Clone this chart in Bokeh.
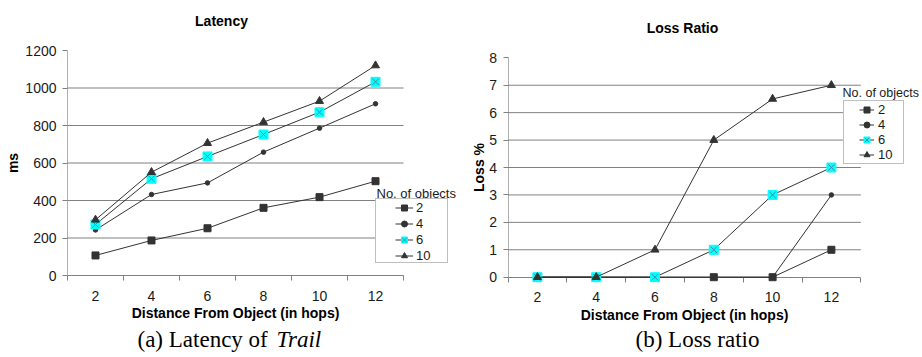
import math
from bokeh.plotting import figure
from bokeh.models import Range1d, FixedTicker, Legend, LegendItem, Label
from bokeh.layouts import row
from bokeh.embed import file_html
from bokeh.resources import INLINE

# ---- data ----
hops = [2, 4, 6, 8, 10, 12]
series_labels = ["2", "4", "6", "10"]

latency_2 = [107, 187, 252, 361, 418, 503]
latency_4 = [243, 432, 494, 658, 786, 916]
latency_6 = [272, 516, 635, 752, 871, 1033]
latency_10 = [297, 551, 706, 818, 930, 1120]

loss_2 = [0, 0, 0, 0, 0, 1]
loss_4 = [0, 0, 0, 0, 0, 3]
loss_6 = [0, 0, 0, 1, 3, 4]
loss_10 = [0, 0, 1, 5, 6.5, 7]

latency_ticks = [0, 200, 400, 600, 800, 1000, 1200]
loss_ticks = [0, 1, 2, 3, 4, 5, 6, 7, 8]

DARK = "#333333"
CYAN = "#00ffff"
SANS = "Liberation Sans"
SERIF = "Liberation Serif"
W, H = 461, 357


def span_range(v0, v1, p0, p1, size):
    s = (v1 - v0) / (p1 - p0)
    return Range1d(v0 - p0 * s, v0 + (size - p0) * s)


def make_panel(series, yticks, title, ylabel, caption_parts, lay):
    xlo, xhi = hops[0] - 1, hops[-1] + 1
    ylo, yhi = yticks[0], yticks[-1]
    ox = lay["ox"]
    xr = span_range(xlo, xhi, lay["fx0"] - ox, lay["fx1"] - ox, W)
    yr = span_range(ylo, yhi, H - lay["fy0"], H - lay["fy1"], H)
    p = figure(width=W, height=H, output_backend="svg", toolbar_location=None,
               title=None, x_range=xr, y_range=yr,
               min_border=0, min_border_left=0, min_border_right=0,
               min_border_top=0, min_border_bottom=0)
    p.outline_line_color = None
    p.background_fill_color = "white"
    p.border_fill_color = "white"
    p.xgrid.visible = False
    p.ygrid.visible = False

    # grid lines (only across the data area)
    gt = yticks[1:-1]
    p.segment(x0=[xlo] * len(gt), x1=[xhi] * len(gt), y0=gt, y1=gt,
              line_color="#808080", line_width=1)

    # axes
    xa = p.xaxis[0]
    xa.fixed_location = ylo
    xa.bounds = (xlo, xhi)
    xa.level = "underlay"
    xa.ticker = FixedTicker(ticks=hops, minor_ticks=[h - 1 for h in hops] + [xhi])
    xa.major_tick_out = 0
    xa.major_tick_in = 0
    xa.minor_tick_out = 5
    xa.minor_tick_in = 0
    xa.minor_tick_line_color = "#808080"
    xa.axis_line_color = "#808080"
    xa.major_label_standoff = 10
    xa.major_label_text_font = SANS
    xa.major_label_text_font_size = "14px"
    xa.major_label_text_color = "#1a1a1a"
    xa.axis_label = "Distance From Object (in hops)"
    xa.axis_label_text_font = SANS
    xa.axis_label_text_font_style = "bold"
    xa.axis_label_text_font_size = "14px"
    xa.axis_label_text_color = "#000000"
    xa.axis_label_standoff = 1

    ya = p.yaxis[0]
    ya.fixed_location = xlo
    ya.bounds = (ylo, yhi)
    ya.level = "underlay"
    ya.ticker = FixedTicker(ticks=yticks, minor_ticks=[])
    ya.major_tick_out = 5
    ya.major_tick_in = 0
    ya.major_tick_line_color = "#808080"
    ya.axis_line_color = "#b0b0b0"
    ya.major_label_standoff = 6
    ya.major_label_text_font = SANS
    ya.major_label_text_font_size = "14px"
    ya.major_label_text_color = "#1a1a1a"
    ya.axis_label = ylabel
    ya.axis_label_text_font = SANS
    ya.axis_label_text_font_style = "bold"
    ya.axis_label_text_font_size = "14px"
    ya.axis_label_text_color = "#000000"
    ya.axis_label_standoff = lay["yls"]

    items = []
    for name, vals in zip(series_labels, series):
        rs = [p.line(hops, vals, line_color=DARK, line_width=1)]
        if name == "2":
            rs.append(p.scatter(hops, vals, marker="square", size=7, fill_color=DARK, line_color=DARK))
        elif name == "4":
            rs.append(p.scatter(hops, vals, marker="circle", size=4.5, fill_color=DARK, line_color=DARK))
        elif name == "6":
            rs.append(p.scatter(hops, vals, marker="square", size=9, fill_color=CYAN, line_color=CYAN))
            rs.append(p.scatter(hops, vals, marker="x", size=9, line_color="#3f8f9f", line_width=1))
        else:
            rs.append(p.scatter(hops, vals, marker="triangle", size=8, fill_color=DARK, line_color=DARK))
        items.append(LegendItem(label=name, renderers=rs))

    # legend frame
    dummy = p.line([], [], line_alpha=0)
    box = Legend(items=[LegendItem(label=" ", renderers=[dummy])], location=lay["box_loc"],
                 padding=0, margin=0, spacing=0, label_standoff=0, label_width=0,
                 label_text_font_size="1px", label_height=lay["box_h"],
                 glyph_width=lay["box_w"], glyph_height=lay["box_h"],
                 border_line_color="#808080", border_line_width=1,
                 background_fill_color="white", background_fill_alpha=1)
    p.add_layout(box)
    leg = Legend(items=items, location=lay["leg_loc"], padding=0, margin=0,
                 spacing=lay["spacing"], glyph_width=lay["gw"], glyph_height=15,
                 label_height=15, label_standoff=lay["ls"],
                 label_text_font=SANS, label_text_font_size="13px", label_text_color="#1a1a1a",
                 border_line_color=None, background_fill_alpha=0)
    p.add_layout(leg)

    p.add_layout(Label(x=lay["lt"][0], y=lay["lt"][1], x_units="screen", y_units="screen",
                       text="No. of objects", text_font=SANS, text_font_size=lay["ltfs"],
                       text_color="#1a1a1a", text_align="left", text_baseline="middle"))
    p.add_layout(Label(x=lay["title"][0], y=lay["title"][1], x_units="screen", y_units="screen",
                       text=title, text_font=SANS, text_font_size="14px", text_font_style="bold",
                       text_color="#000000", text_align="center", text_baseline="middle"))
    for (txt, style, x, y, align) in caption_parts:
        p.add_layout(Label(x=x, y=y, x_units="screen", y_units="screen", text=txt,
                           text_font=SERIF, text_font_size="23px", text_font_style=style,
                           text_color="#000000", text_align=align, text_baseline="middle"))
    return p


left_lay = dict(ox=0, fx0=67, fx1=403, fy0=275, fy1=50, yls=1,
                box_loc=(375, 94), box_w=71, box_h=63,
                leg_loc=(395, 94), spacing=1, gw=18, ls=3,
                lt=(376, 164), ltfs="13px", title=(221, 337))
right_lay = dict(ox=461, fx0=507.5, fx1=860.3, fy0=276.7, fy1=57.3, yls=0,
                 box_loc=(382, 193), box_w=59, box_h=62,
                 leg_loc=(398, 195), spacing=0, gw=15, ls=4,
                 lt=(381, 265), ltfs="12.5px", title=(221, 330))

p1 = make_panel([latency_2, latency_4, latency_6, latency_10], latency_ticks,
                "Latency", "ms",
                [("(a) Latency of", "normal", 137, 18, "left"),
                 ("Trail", "italic", 276, 18, "left")], left_lay)
p2 = make_panel([loss_2, loss_4, loss_6, loss_10], loss_ticks,
                "Loss Ratio", "Loss %",
                [("(b) Loss ratio", "normal", 236, 18, "center")], right_lay)

layout = row(p1, p2)
open("out.html", "w").write(file_html(layout, INLINE))
